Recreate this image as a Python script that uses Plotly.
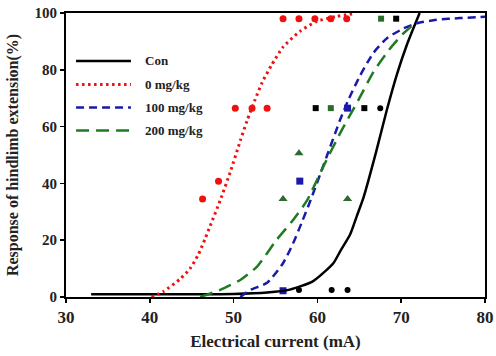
import plotly.graph_objects as go

# ---- data ----
# fitted curves
con_curve_x = [33, 40, 45, 50, 54, 56.7, 59.5, 61.9, 62.7, 63.9, 64.7, 65.5, 67, 68.3, 69.5, 70.7, 72.2]
con_curve_y = [1, 1, 1, 1.1, 1.6, 2.6, 5.6, 11.9, 16, 22, 28.5, 35, 51, 66, 78.5, 89, 100]

d0_curve_x = [40.2, 41.6, 43.6, 44.8, 45.8, 46.6, 47.2, 48.4, 49.6, 50.8, 51.6, 52.5, 53.4, 54.5, 55.9, 57.9, 59.9, 62.3, 64.5]
d0_curve_y = [0, 1.9, 6.3, 10, 15, 20.5, 25, 34, 44, 55, 62, 69, 75.5, 81.5, 88, 93.5, 97, 98.8, 99.8]

d100_curve_x = [50.8, 52, 54, 55.9, 57.1, 58.1, 59.2, 61.1, 62.7, 63.7, 65.1, 66.7, 68.3, 70.3, 71.9, 74.2, 77, 80]
d100_curve_y = [0, 2.5, 5, 11.9, 18.9, 26, 34.2, 49.4, 62.3, 69.4, 78, 86, 91.1, 94.6, 96.4, 97.6, 98.2, 98.7]

d200_curve_x = [46, 48.4, 50.8, 52.8, 55.1, 57.1, 58.8, 60.7, 62.7, 64.9, 66.7, 68.7, 70.3, 71.8]
d200_curve_y = [0, 2.5, 6, 10.7, 20, 27.1, 34.2, 45.9, 57.6, 69.4, 79.3, 87.6, 92.9, 96.8]

# observed points
d0_pts_x = [46.3, 48.2, 50.2, 52.2, 54.0, 55.9, 57.8, 59.7, 61.6, 63.5]
d0_pts_y = [34.5, 40.8, 66.5, 66.5, 66.5, 98, 98, 98, 98, 98]

con_circ_x = [57.8, 61.7, 63.6, 67.5]
con_circ_y = [2.5, 2.5, 2.5, 66.5]
con_sq_x = [59.8, 65.6, 69.4]
con_sq_y = [66.5, 66.5, 98]

d100_sq_x = [55.9, 57.9, 63.6]
d100_sq_y = [2.2, 40.8, 66.5]

d200_tri_x = [55.9, 57.8, 63.6]
d200_tri_y = [34.5, 50.6, 34.5]
d200_sq_x = [61.6, 67.6]
d200_sq_y = [66.5, 98]

x_ticks = [30, 40, 50, 60, 70, 80]
y_ticks = [0, 20, 40, 60, 80, 100]

legend_names = ["Con", "0 mg/kg", "100 mg/kg", "200 mg/kg"]

BLACK = "#000000"
RED = "#f01010"
BLUE = "#1a1aaa"
GREEN = "#1f7a24"
GREEN_M = "#2d6a30"

FONT = "Liberation Serif, Times New Roman, serif"
TXT = "#222222"

styles = [
    dict(color=BLACK, width=2.5, dash="solid"),
    dict(color=RED, width=3, dash="2.5px,3.5px"),
    dict(color=BLUE, width=2.5, dash="8px,5px"),
    dict(color=GREEN, width=2.5, dash="13px,7px"),
]

fig = go.Figure()

# markers
fig.add_trace(go.Scatter(x=d0_pts_x, y=d0_pts_y, mode="markers", showlegend=False,
                         marker=dict(symbol="circle", size=7, color=RED)))
fig.add_trace(go.Scatter(x=con_circ_x, y=con_circ_y, mode="markers", showlegend=False,
                         marker=dict(symbol="circle", size=6, color=BLACK)))
fig.add_trace(go.Scatter(x=con_sq_x, y=con_sq_y, mode="markers", showlegend=False,
                         marker=dict(symbol="square", size=6, color=BLACK)))
fig.add_trace(go.Scatter(x=d100_sq_x, y=d100_sq_y, mode="markers", showlegend=False,
                         marker=dict(symbol="square", size=7, color=BLUE)))
fig.add_trace(go.Scatter(x=d200_tri_x, y=d200_tri_y, mode="markers", showlegend=False,
                         marker=dict(symbol="triangle-up", size=8, color=GREEN_M)))
fig.add_trace(go.Scatter(x=d200_sq_x, y=d200_sq_y, mode="markers", showlegend=False,
                         marker=dict(symbol="square", size=6, color=GREEN_M)))

# curves
curves = [(con_curve_x, con_curve_y), (d0_curve_x, d0_curve_y),
          (d100_curve_x, d100_curve_y), (d200_curve_x, d200_curve_y)]
for (cx, cy), name, st in zip(curves, legend_names, styles):
    fig.add_trace(go.Scatter(x=cx, y=cy, mode="lines", name=name, showlegend=False,
                             line=dict(shape="spline", smoothing=0.6, **st)))

# manual legend (inside plot, upper left)
leg_y = [0.831, 0.748, 0.667, 0.586]
for name, st, yy in zip(legend_names, styles, leg_y):
    fig.add_shape(type="line", xref="paper", yref="paper", x0=0.024, x1=0.155, y0=yy, y1=yy,
                  line=dict(color=st["color"], width=st["width"], dash=st["dash"]))
    fig.add_annotation(xref="paper", yref="paper", x=0.183, y=yy, text=name, showarrow=False,
                       xanchor="left", yanchor="middle",
                       font=dict(size=13, family=FONT, color=TXT, weight="bold"))

axis_common = dict(showgrid=False, zeroline=False, showline=True, linecolor=BLACK, linewidth=2,
                   mirror=True, ticks="outside", ticklen=4, tickwidth=1.5, tickcolor=BLACK,
                   automargin=False, ticklabeloverflow="allow")

fig.update_layout(
    width=496, height=356,
    margin=dict(l=66, r=11, t=13, b=59),
    paper_bgcolor="white", plot_bgcolor="white",
    font=dict(family=FONT, color=TXT),
    showlegend=False,
    hovermode=False,
    xaxis=dict(range=[30, 80], tickvals=x_ticks, ticktext=[str(v) for v in x_ticks],
               tickfont=dict(size=17, family=FONT, color=TXT, weight="bold"),
               title=dict(text="Electrical current (mA)", font=dict(size=17, family=FONT, color=TXT, weight="bold"), standoff=9),
               **axis_common),
    yaxis=dict(range=[0, 100], tickvals=y_ticks, ticktext=[str(v) for v in y_ticks],
               tickfont=dict(size=15, family=FONT, color=TXT, weight="bold"),
               title=dict(text="Response of hindlimb extension(%)", font=dict(size=16, family=FONT, color=TXT, weight="bold"), standoff=12),
               **axis_common),
)

# remove the default 8px page-body margin so the figure sits at the window origin
fig.write_html("out.html", config={"displayModeBar": False, "staticPlot": True},
               post_script="document.body.style.margin='0';document.body.style.overflow='hidden';")
